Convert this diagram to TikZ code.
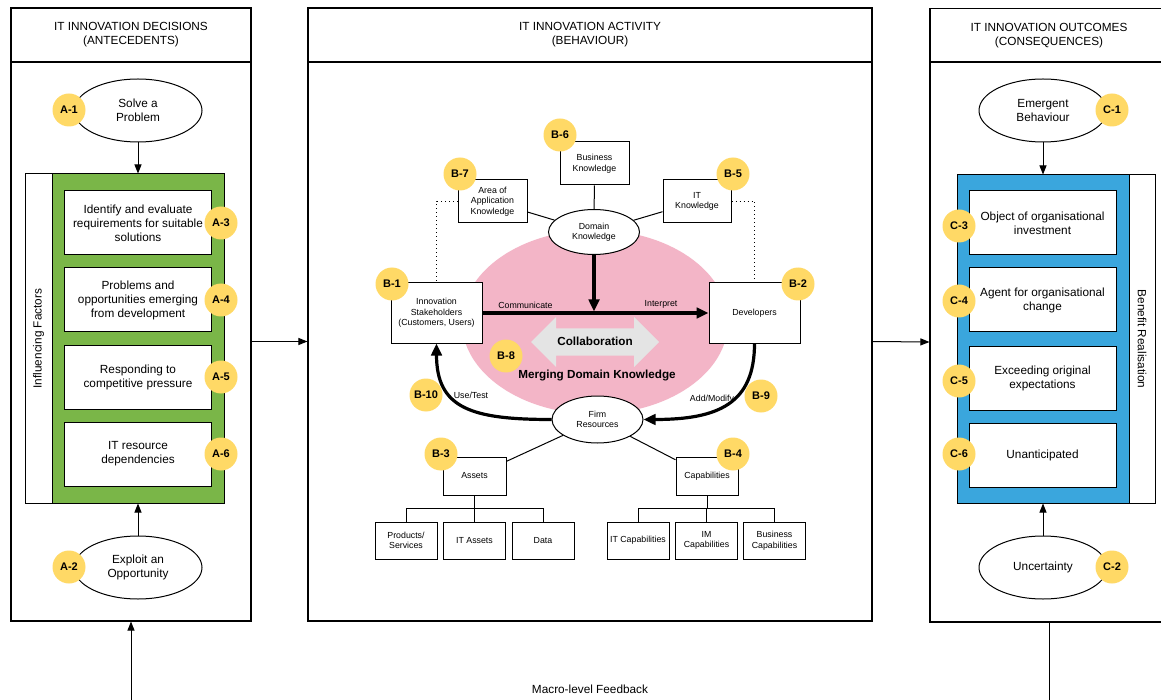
\documentclass[tikz,border=0pt]{standalone}
\usepackage{fontspec}
\setmainfont{Liberation Sans}
\usetikzlibrary{arrows.meta,shapes.geometric}
\definecolor{factorgreen}{RGB}{122,182,72}
\definecolor{benefitblue}{RGB}{58,166,221}
\definecolor{badgeyellow}{RGB}{255,217,102}
\definecolor{mergepink}{RGB}{243,181,199}
\definecolor{collabgray}{RGB}{228,228,228}
\tikzset{
  panelhead/.style = {draw,line width=1.1pt,minimum height=54pt,align=center,
                      inner sep=0pt,font=\fontsize{11.8}{14}\selectfont},
  panelbody/.style = {draw,line width=1.1pt,inner sep=0pt},
  sidebox/.style   = {draw,fill=white,line width=1pt,inner sep=0pt,
                      font=\fontsize{11.8}{14}\selectfont},
  holder/.style    = {draw,line width=1pt,inner sep=0pt,
                      minimum width=172pt,minimum height=329pt},
  oval/.style      = {ellipse,draw,fill=white,line width=1pt,inner sep=0pt,
                      minimum width=128pt,minimum height=63pt,align=center,
                      font=\fontsize{11.8}{14}\selectfont},
  itembox/.style   = {draw,fill=white,line width=1pt,inner sep=2pt,
                      minimum width=147pt,minimum height=64pt,align=center,
                      font=\fontsize{11.8}{14}\selectfont},
  smallbox/.style  = {draw,fill=white,line width=1pt,inner sep=2pt,align=center,
                      font=\fontsize{8.8}{10.5}\selectfont},
  smalloval/.style = {ellipse,draw,fill=white,line width=1pt,inner sep=0pt,
                      minimum width=91pt,minimum height=46pt,align=center,
                      font=\fontsize{8.8}{10.5}\selectfont},
  flowlabel/.style = {inner sep=1pt,font=\fontsize{8.8}{10.5}\selectfont},
  boldlabel/.style = {inner sep=0pt,font=\bfseries\fontsize{11.7}{14}\selectfont},
  badge/.style     = {circle,fill=badgeyellow,inner sep=0pt,minimum size=33pt,
                      font=\bfseries\fontsize{11}{13}\selectfont},
  arrow/.style     = {-{Triangle[length=9pt,width=7pt]},line width=1pt},
  thickarrow/.style= {-{Triangle[length=12pt,width=10.5pt]},line width=3.2pt},
  link/.style      = {line width=1pt},
  dotlink/.style   = {line width=1pt,dash pattern=on 1pt off 3pt},
}

\begin{document}
\begin{tikzpicture}[x=1pt,y=-1pt]
  \useasboundingbox (0,0) rectangle (1161,700);
  \fill[white] (0,0) rectangle (1161,700);
  \clip (0,0) rectangle (1161,700);

  % three panels
  \node[panelhead,minimum width=240pt] (headA) at (131,35)
    {IT INNOVATION DECISIONS\\(ANTECEDENTS)};
  \node[panelbody,minimum width=240pt,minimum height=559pt] (bodyA) at (131,341.5) {};
  \node[panelhead,minimum width=564pt] (headB) at (590,35)
    {IT INNOVATION ACTIVITY\\(BEHAVIOUR)};
  \node[panelbody,minimum width=564pt,minimum height=559pt] (bodyB) at (590,341.5) {};
  \node[panelhead,minimum width=238pt] (headC) at (1049,35.5)
    {IT INNOVATION OUTCOMES\\(CONSEQUENCES)};
  \node[panelbody,minimum width=238pt,minimum height=560pt] (bodyC) at (1049,342) {};

  \draw[arrow] (bodyA.east) -- (bodyB.west);
  \draw[arrow] (bodyB.east) -- (bodyC.west);

  % macro-level feedback
  \coordinate (feedA) at (131,700);
  \coordinate (feedC) at (1049,700);
  \draw[arrow] (feedA) -- (bodyA.south);
  \draw[link] (bodyC.south) -- (feedC);
  \node[inner sep=0pt,font=\fontsize{11.8}{14}\selectfont] (feedL) at (590,689)
    {Macro-level Feedback};

  % antecedents
  \node[sidebox,rotate=90,minimum width=329pt,minimum height=27pt] (inflA)
    at (38.5,338.5) {Influencing Factors};
  \node[holder,fill=factorgreen] (greenA) at (138,338.5) {};
  \node[oval] (solveA) at (138,110.5) {Solve a\\Problem};
  \node[oval] (exploitA) at (138,567.5) {Exploit an\\Opportunity};
  \draw[arrow] (solveA) -- (greenA);
  \draw[arrow] (exploitA) -- (greenA);
  \node[badge] (badgeA1) at (69,110) {A-1};
  \node[badge] (badgeA2) at (69,567) {A-2};
  \foreach \n/\y/\txt in {
    3/223/{Identify and evaluate\\requirements for suitable\\solutions},
    4/300/{Problems and\\opportunities emerging\\from development},
    5/377/{Responding to\\competitive pressure},
    6/454/{IT resource\\dependencies}}{
    \node[itembox] (factor\n) at (138,\y) {\txt};
    \node[badge] (badgeA\n) at (221,\y) {A-\n};
  }

  % consequences
  \node[sidebox,rotate=-90,minimum width=328pt,minimum height=26pt] (benefitC)
    at (1142,339) {Benefit Realisation};
  \node[holder,fill=benefitblue,minimum height=328pt] (blueC) at (1043,339) {};
  \node[oval] (emergeC) at (1043,110.5) {Emergent\\Behaviour};
  \node[oval] (uncertC) at (1043,567.5) {Uncertainty};
  \draw[arrow] (emergeC) -- (blueC);
  \draw[arrow] (uncertC) -- (blueC);
  \node[badge] (badgeC1) at (1112,110) {C-1};
  \node[badge] (badgeC2) at (1112,567) {C-2};
  \foreach \n/\y/\by/\txt in {
    3/223/226/{Object of organisational\\investment},
    4/300/301/{Agent for organisational\\change},
    5/378/381/{Exceeding original\\expectations},
    6/455/454/{Unanticipated}}{
    \node[itembox] (outcome\n) at (1042.5,\y) {\txt};
    \node[badge] (badgeC\n) at (959,\by) {C-\n};
  }

  % behaviour
  \node[ellipse,fill=mergepink,minimum width=266pt,minimum height=184pt] (mergeK)
    at (595,322) {};
  \fill[collabgray] (531,342) -- (556,317) -- (556,328.5) -- (634,328.5)
    -- (634,317) -- (659,342) -- (634,367) -- (634,355.5) -- (556,355.5)
    -- (556,367) -- cycle;
  \node[boldlabel] (collabT) at (595,341) {Collaboration};
  \node[boldlabel] (mergeT) at (597,376) {Merging Domain Knowledge};

  \node[smalloval,minimum height=45pt] (domK) at (594,232) {Domain\\Knowledge};
  \node[smallbox,minimum width=69pt,minimum height=43pt] (busK) at (594.5,163.5)
    {Business\\Knowledge};
  \node[smallbox,minimum width=69pt,minimum height=43pt] (areaK) at (492.5,201.5)
    {Area of\\Application\\Knowledge};
  \node[smallbox,minimum width=68pt,minimum height=43pt] (itK) at (697,201.5)
    {IT\\Knowledge};
  \draw[link] (busK) -- (domK);
  \draw[link] (areaK) -- (domK);
  \draw[link] (itK) -- (domK);

  \node[smallbox,minimum width=91pt,minimum height=60pt] (stakeH) at (436.5,313)
    {Innovation\\Stakeholders\\(Customers, Users)};
  \node[smallbox,minimum width=91pt,minimum height=60pt] (devs) at (754.5,313)
    {Developers};
  \draw[dotlink] (areaK.west) -| (stakeH.north);
  \draw[dotlink] (itK.east) -| (devs.north);

  \draw[thickarrow] (stakeH.east) -- (devs.west)
    node[flowlabel,pos=0.19,above=2pt] (commL) {Communicate}
    node[flowlabel,pos=0.79,above=2pt] (interpL) {Interpret};
  \draw[thickarrow,shorten >=1.5pt] (domK.south) -- (domK.south |- stakeH.east);

  \node[smalloval,minimum height=47pt] (firmR) at (597.5,419.5) {Firm\\Resources};
  \draw[thickarrow] (firmR.west) .. controls +(-80,0) and +(0,65) .. (stakeH.south);
  \draw[thickarrow] (devs.south) .. controls +(0,60) and +(75,0) .. (firmR.east);
  \node[flowlabel] (useL) at (471,395) {Use/Test};
  \node[flowlabel] (addL) at (712,399) {Add/Modify};

  \node[smallbox,minimum width=63pt,minimum height=38pt] (assets) at (474.5,476) {Assets};
  \node[smallbox,minimum width=62pt,minimum height=38pt] (capab) at (707,476) {Capabilities};
  \draw[link] (firmR) -- (assets);
  \draw[link] (firmR) -- (capab);

  \foreach \nm/\x/\txt in {prodS/406/{Products/\\Services}, itA/474.5/{IT Assets},
    dataA/543/{Data}, itC/638/{IT Capabilities}, imC/706.5/{IM\\Capabilities},
    busC/774.5/{Business\\Capabilities}}{
    \node[smallbox,minimum width=62pt,minimum height=37pt] (\nm) at (\x,540.5) {\txt};
  }
  \coordinate (assetsJ) at (474.5,508);
  \coordinate (capabJ) at (707,508);
  \draw[link] (assets) -- (assetsJ);
  \draw[link] (capab) -- (capabJ);
  \foreach \c in {prodS,itA,dataA} \draw[link] (assetsJ) -| (\c.north);
  \foreach \c in {itC,imC,busC} \draw[link] (capabJ) -| (\c.north);

  % badges
  \foreach \n/\x/\y in {1/392/284, 2/798/284, 3/441/454, 4/733/454, 5/733/174,
    6/560/135, 7/460/174, 8/506/356, 9/761/396, 10/426/395}{
    \node[badge] (badgeB\n) at (\x,\y) {B-\n};
  }
\end{tikzpicture}
\end{document}
